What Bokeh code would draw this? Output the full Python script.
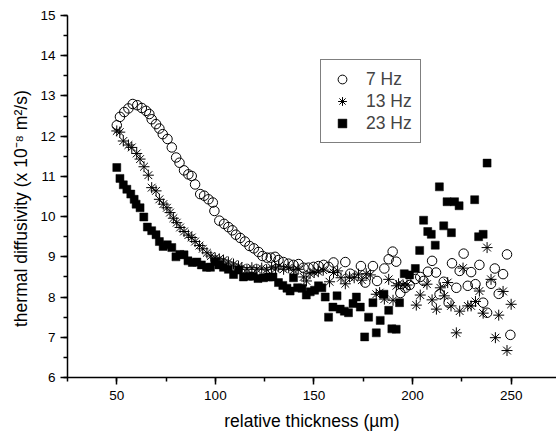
from bokeh.plotting import figure
from bokeh.models import Range1d, SingleIntervalTicker, Legend, LegendItem
from bokeh.embed import file_html
from bokeh.resources import INLINE

# ---- data ----
x_7hz = [50, 51.6, 53.8, 55.9, 58.1, 60.4, 62.7, 64.8, 66.5, 67.7, 69.9, 71.6, 73.3, 75.7, 77.9,
         80.1, 81.8, 84.1, 86.3, 88, 89.7, 92.3, 94.3, 96.5, 98.7, 99.5, 102, 104.4, 106.6, 108.6,
         110.4, 112.6, 115, 117.3, 119.5, 121.9, 123.9, 126.1, 128.1, 130.3, 132, 134.5, 137.1,
         139.6, 142.2, 144.7, 147.2, 149.8, 152.3, 154.9, 157.4, 159.9, 165.9, 168.4, 173.8, 176,
         179.9, 182, 185.7, 187.9, 189.9, 191.7, 193.8, 196.3, 198.5, 201.5, 203.9, 205.6, 207.8,
         209.9, 211.9, 213.7, 215.8, 218.3, 220, 222.2, 223.9, 225.9, 228, 229.7, 231.9, 233.9,
         235.8, 237.8, 239.8, 241.7, 243.7, 245.9, 247.9, 249.6]
y_7hz = [12.27, 12.48, 12.6, 12.69, 12.8, 12.77, 12.7, 12.63, 12.55, 12.42, 12.3, 12.19, 12.05, 11.93,
         11.72, 11.47, 11.34, 11.15, 11.05, 11.01, 10.8, 10.56, 10.52, 10.43, 10.35, 10.14, 9.9, 9.82,
         9.74, 9.66, 9.55, 9.47, 9.38, 9.27, 9.21, 9.12, 9.02, 8.98, 8.98, 9.0, 8.92, 8.87, 8.83, 8.8,
         8.82, 8.73, 8.73, 8.75, 8.77, 8.8, 8.75, 8.86, 8.87, 8.58, 8.77, 8.36, 8.77, 8.4, 8.71, 8.94,
         9.13, 8.88, 8.1, 8.23, 8.3, 8.45, 8.5, 8.4, 8.63, 8.9, 8.61, 8.07, 8.38, 7.86, 8.84, 8.23,
         8.65, 9.08, 8.28, 8.62, 8.32, 8.8, 7.86, 7.61, 8.33, 8.71, 8.08, 8.57, 9.06, 7.06]

x_13hz = [50, 51.5, 53.3, 55.9, 57.6, 60.1, 61.8, 63.8, 66, 67.7, 69.9, 71.6, 73.6, 75.4, 77, 78.7,
          80.4, 82.1, 84.1, 86.3, 88, 89.7, 91.9, 93.6, 95.7, 97.7, 99.9, 102, 104.1, 106.6, 109.2,
          111.7, 113.4, 116, 118.5, 121, 123.5, 126, 128.5, 130.5, 132.1, 134.6, 137.2, 139.7, 142,
          144.8, 146.2, 148, 150.1, 152.2, 154.7, 157.9, 159.9, 162, 163.7, 165.9, 168, 170.4, 172.6,
          174.3, 176.5, 178.6, 181.6, 183.3, 185.7, 187.9, 190.1, 191.8, 192.9, 195.2, 197.2, 201.9,
          203.9, 207.3, 209.9, 212.1, 214.1, 216.1, 217.8, 219.5, 222.2, 223.9, 225.6, 228, 229.7,
          231.9, 233.9, 235.8, 237.8, 239.8, 242, 243.7, 245.9, 247.9, 250]
y_13hz = [12.13, 12.1, 11.88, 11.78, 11.72, 11.57, 11.43, 11.24, 11.03, 10.72, 10.64, 10.43, 10.31,
          10.22, 10.1, 9.96, 9.85, 9.73, 9.63, 9.54, 9.48, 9.38, 9.28, 9.2, 9.1, 9.02, 8.97, 8.95,
          8.92, 8.87, 8.82, 8.77, 8.73, 8.69, 8.73, 8.69, 8.72, 8.68, 8.74, 8.7, 8.77, 8.69, 8.73,
          8.67, 8.69, 8.5, 8.4, 8.58, 8.61, 8.63, 8.67, 8.38, 8.61, 8.65, 8.48, 8.33, 8.5, 8.48, 8.57,
          8.42, 8.58, 8.55, 8.07, 8.11, 7.95, 8.44, 7.92, 8.28, 8.33, 8.3, 8.3, 7.8, 8.05, 8.32, 7.93,
          7.7, 8.23, 8.03, 8.36, 7.78, 7.11, 7.65, 8.72, 7.78, 7.78, 7.89, 8.15, 7.6, 9.23, 8.44,
          6.99, 7.55, 8.14, 6.67, 7.82]

x_23hz = [50, 51.6, 53.3, 55.1, 57.1, 58.8, 59.8, 61.8, 63.7, 65.5, 67.7, 69.9, 71.6, 73.5, 75.6,
          77.9, 80, 82, 84.1, 86.1, 88.3, 90.6, 92.9, 95.5, 97.5, 99.7, 101.8, 104.1, 106.6, 109.2,
          111.7, 114.2, 116.8, 119.2, 121.6, 124.4, 127, 129.2, 132, 134.2, 136.3, 137.9, 139.6,
          141.7, 143.9, 146.1, 148.1, 150.3, 152.3, 154, 155.7, 157.4, 159.6, 161.7, 163.3, 165.4,
          167.5, 169.8, 171.5, 173.5, 175.7, 177.7, 179.9, 181.6, 183.6, 185.5, 187.9, 189.5, 191.7,
          193.4, 195.8, 198.5, 201.4, 203.6, 205.6, 207.7, 209.5, 211.5, 213.6, 215.8, 217.5, 219.7,
          221.3, 223.6, 231.5, 233.5, 235.8, 237.8]
y_23hz = [11.22, 10.95, 10.79, 10.68, 10.56, 10.43, 10.31, 10.22, 9.99, 9.74, 9.65, 9.55, 9.38, 9.26,
          9.3, 9.23, 9.0, 9.06, 9.05, 8.9, 8.86, 8.87, 8.8, 8.74, 8.74, 8.88, 8.8, 8.74, 8.69, 8.56,
          8.67, 8.5, 8.52, 8.52, 8.46, 8.48, 8.5, 8.5, 8.36, 8.29, 8.22, 8.15, 8.48, 8.23, 8.22, 8.05,
          8.13, 8.17, 8.28, 8.23, 8.0, 7.5, 7.75, 8.03, 7.7, 7.65, 7.61, 7.84, 8.0, 7.75, 7.01, 7.5,
          7.86, 7.11, 7.42, 8.07, 7.67, 7.21, 7.2, 7.86, 8.58, 8.55, 8.71, 9.16, 9.91, 9.63, 9.56,
          9.29, 10.74, 9.77, 10.37, 9.6, 10.37, 10.27, 10.42, 9.5, 9.56, 11.33]

series_labels = ["7 Hz", "13 Hz", "23 Hz"]
x_title = "relative thickness (\u00b5m)"
y_title = "thermal diffusivity (x 10\u207b\u2078 m\u00b2/s)"

FONT = "Liberation Sans"

p = figure(width=556, height=435, output_backend="svg", toolbar_location=None,
           x_range=Range1d(25, 273), y_range=Range1d(6, 15),
           min_border_left=67, min_border_right=0, min_border_top=15, min_border_bottom=58)
p.outline_line_color = None
p.xgrid.visible = False
p.ygrid.visible = False
p.background_fill_color = "white"
p.border_fill_color = "white"

r7 = p.scatter(x_7hz, y_7hz, marker="circle", size=9.5, fill_color=None,
               line_color="black", line_width=1)
r13 = p.scatter(x_13hz, y_13hz, marker="asterisk", size=11, line_color="black", line_width=1)
r23 = p.scatter(x_23hz, y_23hz, marker="square", size=8, fill_color="black",
                line_color="black", line_width=0.5)

for ax in (p.xaxis[0], p.yaxis[0]):
    ax.axis_line_width = 1.5
    ax.major_tick_line_width = 1.5
    ax.minor_tick_line_width = 1.5
    ax.major_tick_out = 7
    ax.major_tick_in = 0
    ax.minor_tick_out = 4
    ax.minor_tick_in = 0
    ax.major_label_text_font = FONT
    ax.major_label_text_font_size = "13.5px"
    ax.major_label_text_color = "black"
    ax.axis_line_color = "black"
    ax.major_tick_line_color = "black"
    ax.minor_tick_line_color = "black"
    ax.axis_label_text_font = FONT
    ax.axis_label_text_font_size = "17.5px"
    ax.axis_label_text_font_style = "normal"
    ax.axis_label_text_color = "black"

p.xaxis[0].ticker = SingleIntervalTicker(interval=50, num_minor_ticks=2)
p.yaxis[0].ticker = SingleIntervalTicker(interval=1, num_minor_ticks=2)
p.xaxis[0].major_label_standoff = 6
p.yaxis[0].major_label_standoff = 5
p.xaxis[0].axis_label = x_title
p.yaxis[0].axis_label = y_title + "\u00a0" * 5
p.xaxis[0].axis_label_standoff = 8
p.yaxis[0].axis_label_standoff = 6

legend = Legend(items=[LegendItem(label=series_labels[0], renderers=[r7]),
                       LegendItem(label=series_labels[1], renderers=[r13]),
                       LegendItem(label=series_labels[2], renderers=[r23])],
                location=(253, 234), orientation="vertical",
                label_text_font=FONT, label_text_font_size="17.5px",
                glyph_width=26, glyph_height=22, label_height=22, label_standoff=11,
                spacing=0, padding=8, margin=0,
                border_line_color="black", border_line_width=1,
                background_fill_color="white", background_fill_alpha=1)
p.add_layout(legend, "center")

open("out.html", "w").write(file_html(p, INLINE))
